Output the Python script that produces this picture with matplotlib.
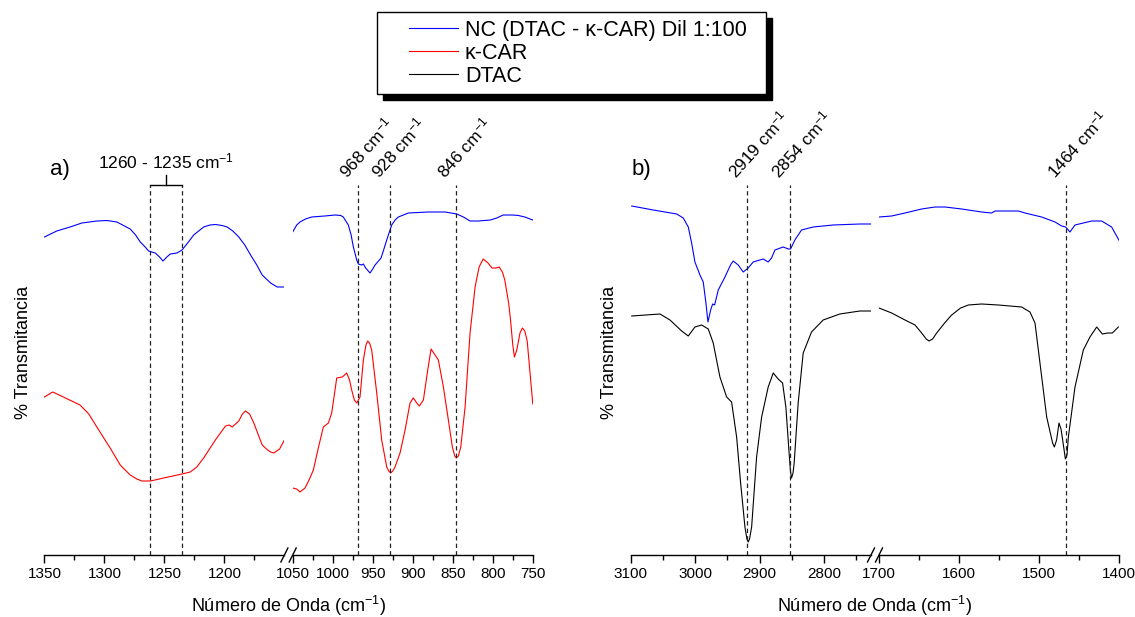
import numpy as np
import matplotlib.pyplot as plt
from matplotlib.lines import Line2D
from matplotlib.legend_handler import HandlerLine2D

plt.rcParams['font.family'] = ['Liberation Sans', 'DejaVu Sans']
plt.rcParams['mathtext.fontset'] = 'custom'
plt.rcParams['mathtext.rm'] = 'Liberation Sans'
plt.rcParams['mathtext.it'] = 'Liberation Sans:italic'

# ---- panel a) 1350-1150 segment ----
a1_nc_x = [1350, 1339.7, 1328.6, 1318.8, 1306.3, 1298, 1289.6, 1278.5, 1274, 1270.1, 1266, 1263.2,
           1257.6, 1254, 1251.2, 1248, 1245.1, 1239.5, 1235.3, 1230, 1225.6, 1217.3, 1212,
           1207.5, 1202, 1197.7, 1193, 1188, 1183, 1178.2, 1173, 1168.5, 1161.5, 1156, 1150]
a1_nc_y = [318, 324, 328, 332, 334, 334.5, 333, 326, 320, 313, 308, 304,
           302, 298, 294, 298, 301, 302, 305, 313, 320, 328, 330,
           330.5, 329.5, 328, 324, 318, 310, 300, 290, 280, 272, 268, 268]
a1_car_x = [1350, 1343, 1334.2, 1320.3, 1313, 1306.3, 1295.2, 1286.8, 1278.5, 1273, 1268.7,
            1261.8, 1256, 1250.7, 1243, 1235.3, 1228.4, 1223, 1217.3, 1207.5, 1199.1, 1196,
            1193.5, 1188, 1185, 1182.4, 1179, 1175.5, 1168.5, 1164, 1161.5, 1158.8, 1154, 1150]
a1_car_y = [158, 163, 158, 150, 141, 128, 107, 90, 80, 76, 74,
            74, 75.5, 77, 79, 81, 83, 88, 97, 115, 129, 130,
            128, 134, 141, 144, 141, 132, 110, 105, 103, 102, 106, 115]

# ---- panel a) 1050-750 segment ----
a2_nc_x = [1050, 1045, 1040.9, 1034, 1026.3, 1010, 997.1, 990, 986.8, 980.5, 977, 974.2, 970,
           968, 964, 961.7, 958.8, 953.4, 950, 947.1, 939.6, 936, 932.5, 926.3, 922, 918, 905.5,
           880.5, 859.6, 845, 836.7, 828.4, 818, 803, 795, 787, 775, 768, 760, 750]
a2_nc_y = [323, 330, 333, 336, 338, 339, 340, 339.5, 338, 330, 320, 308, 295,
           291, 290, 291, 287, 282, 286, 290, 297, 306, 315, 330, 335, 338, 342,
           343, 343, 341, 338, 334, 334, 335, 337, 340, 340, 339.5, 338, 335]
a2_car_x = [1050, 1045, 1040.9, 1034.6, 1029, 1024.2, 1018, 1011.7, 1005.4, 1001.3, 998, 995,
            988, 982.5, 979, 976.3, 973, 970, 965.9, 961.7, 958.5, 956.3, 954, 951.3, 945, 938.8,
            932.5, 930, 927.5, 925, 922.1, 915.9, 909.6, 903.4, 899.3, 895, 891.7, 886.7, 881.3,
            877.1, 872.1, 868, 861.7, 855.5, 850.5, 847.5, 845.5, 843, 840, 834.6, 828.4, 822.1,
            817.1, 812, 806, 801, 796, 792, 788, 785, 780, 777.7, 775, 773, 770, 766, 763, 760,
            757, 750]
a2_car_y = [67, 66, 63, 67, 76, 85, 107, 128, 132, 142, 160, 177,
            178, 182, 175, 165, 155, 152, 158, 195, 210, 214, 212, 205, 162, 115,
            88, 84, 82, 84, 88, 102, 125, 152, 157, 152, 149, 155, 185,
            206, 200, 195, 168, 135, 108, 99, 97, 99, 108, 148, 222, 268,
            288, 296, 292, 287, 287, 288, 283, 275, 251, 234, 210, 198, 205, 222, 227, 224,
            214, 151]

# ---- panel b) 3100-2727 segment ----
b1_nc_x = [3098.3, 3064.8, 3028.5, 3018.3, 3010.5, 3005.3, 3000.2, 2992.4, 2987.3, 2983.1, 2980,
           2975.8, 2972.7, 2969.6, 2964, 2953.6, 2945, 2940.8, 2933, 2925.3, 2917.5, 2909.8,
           2894.3, 2886.5, 2881.3, 2876.1, 2863.3, 2855, 2851.8, 2845.1, 2834.8, 2816.7, 2785.7,
           2744.3, 2727.8]
b1_nc_y = [349, 345, 341, 337, 328, 312, 293, 280, 273, 252, 233,
           245, 251, 250, 265, 278, 290, 294, 290, 283, 287, 293,
           296, 293, 297, 305, 308, 306, 306, 315, 325, 328, 330,
           331, 331]
b1_dtac_x = [3098.3, 3054.4, 3038.9, 3020.8, 3010.5, 3000.2, 2989.8, 2979.5, 2971.8, 2961.4, 2951,
             2943.3, 2935.5, 2929.3, 2922.6, 2919.5, 2917.5, 2915.5, 2912.2, 2904.5, 2896.7,
             2886.5, 2878.7, 2871, 2864.2, 2859.1, 2854.4, 2852, 2850.3, 2848, 2846.2, 2840,
             2832.2, 2819.3, 2801.2, 2775.4, 2744.3, 2727.8]
b1_dtac_y = [239, 241, 235, 224, 219, 228, 230, 226, 212, 178, 158,
             153, 118, 72, 28, 16, 13, 16, 28, 98, 138,
             168, 182, 176, 172, 148, 105, 84, 77, 82, 92, 152,
             202, 223, 235, 241, 244, 244]

# ---- panel b) 1700-1400 segment ----
b2_nc_x = [1700, 1684.2, 1667.5, 1646.7, 1630, 1617.5, 1596.7, 1571.7, 1559.2, 1555, 1542.5,
           1525.8, 1517.5, 1496.7, 1480, 1471.7, 1466.7, 1461.3, 1455, 1434.2, 1421.7, 1409.2,
           1398.8]
b2_nc_y = [338, 339, 342, 346, 348, 348, 346, 343, 342, 344, 344,
           344, 342, 338, 333, 329, 328, 323, 330, 334, 334, 328,
           313]
b2_dtac_x = [1700, 1684.2, 1667.5, 1655, 1646.7, 1641, 1637.5, 1633, 1627.9, 1618, 1609.2, 1598,
             1588.3, 1571.7, 1550.8, 1521.7, 1511.3, 1505, 1498.8, 1490.4, 1483, 1480.8, 1478,
             1475, 1472.5, 1470.8, 1467, 1465, 1463.3, 1455, 1444.6, 1436.3, 1427.9, 1420.8,
             1414.2, 1408.3, 1400.8]
b2_dtac_y = [247, 242, 235, 230, 222, 216, 214, 216, 222, 232, 240, 247,
             250, 251, 250, 248, 243, 232, 192, 138, 112, 108, 115,
             132, 126, 117, 96, 100, 118, 168, 205, 218, 228, 221,
             222, 222, 228]

labels = ['NC (DTAC - κ-CAR) Dil 1:100', 'κ-CAR', 'DTAC']
a_peaks = [968, 928, 846]
a_band = [1262, 1235]
b_peaks = [2919, 2853, 1466]
b_peak_text = ['2919', '2854', '1464']

W, H = 1135, 617
fig = plt.figure(figsize=(W / 100, H / 100), dpi=100)
bot, hgt = 62 / H, 405 / H

ax_a1 = fig.add_axes([44.4 / W, bot, 240 / W, hgt])
ax_a2 = fig.add_axes([292.7 / W, bot, 240.1 / W, hgt])
ax_b1 = fig.add_axes([630.6 / W, bot, 240.4 / W, hgt])
ax_b2 = fig.add_axes([879 / W, bot, 240 / W, hgt])

lw = 0.8
ln_nc, = ax_a1.plot(a1_nc_x, a1_nc_y, color='#0000ff', lw=lw)
ln_car, = ax_a1.plot(a1_car_x, a1_car_y, color='#ff0000', lw=lw)
ax_a2.plot(a2_nc_x, a2_nc_y, color='#0000ff', lw=lw)
ax_a2.plot(a2_car_x, a2_car_y, color='#ff0000', lw=lw)
ax_b1.plot(b1_nc_x, b1_nc_y, color='#0000ff', lw=lw)
ln_dtac, = ax_b1.plot(b1_dtac_x, b1_dtac_y, color='black', lw=lw)
ax_b2.plot(b2_nc_x, b2_nc_y, color='#0000ff', lw=lw)
ax_b2.plot(b2_dtac_x, b2_dtac_y, color='black', lw=lw)

setup = [
    (ax_a1, (1350, 1150), [1350, 1300, 1250, 1200], [1325, 1275, 1225, 1175]),
    (ax_a2, (1050, 750), [1050, 1000, 950, 900, 850, 800, 750], [1025, 975, 925, 875, 825, 775]),
    (ax_b1, (3100, 2727), [3100, 3000, 2900, 2800], [3050, 2950, 2850, 2750]),
    (ax_b2, (1700, 1400), [1700, 1600, 1500, 1400], [1650, 1550, 1450]),
]
for ax, lim, major, minor in setup:
    ax.set_xlim(*lim)
    ax.set_ylim(0, 405)
    ax.set_xticks(major)
    ax.set_xticks(minor, minor=True)
    ax.set_yticks([])
    ax.patch.set_alpha(0)
    for s in ['left', 'right', 'top']:
        ax.spines[s].set_visible(False)
    ax.spines['bottom'].set_linewidth(1.0)
    ax.tick_params(axis='x', which='major', direction='out', length=6, width=1.0,
                   labelsize=11, pad=3)
    ax.tick_params(axis='x', which='minor', direction='out', length=3.5, width=1.0)

# axis break marks
for ax, side in [(ax_a1, 1), (ax_a2, 0), (ax_b1, 1), (ax_b2, 0)]:
    d, h = 3.5 / 240, 7 / 405
    ax.plot([side - d, side + d], [-h, h], color='black', lw=1.0,
            transform=ax.transAxes, clip_on=False)

# dashed marker lines
top = 370
dash = dict(color='#222222', lw=0.9, ls=(0, (3.5, 2.5)))
for x in a_band:
    ax_a1.plot([x, x], [0, top], **dash)
for x in a_peaks:
    ax_a2.plot([x, x], [0, top], **dash)
for x in b_peaks[:2]:
    ax_b1.plot([x, x], [0, top], **dash)
ax_b2.plot([b_peaks[2], b_peaks[2]], [0, top], **dash)

# bracket for the 1260-1235 band
mid = sum(a_band) / 2
ax_a1.plot(a_band, [top, top], color='black', lw=1.0)
ax_a1.plot([mid, mid], [top, top + 10], color='black', lw=1.0)
ax_a1.text(mid, top + 14, '1260 - 1235 cm$^{\\mathregular{-1}}$', ha='center', va='bottom',
           fontsize=12.5)

def peak_label(ax, x, txt):
    ax.annotate(txt + ' cm$^{\\mathregular{-1}}$', xy=(x, top), xytext=(-8, 4),
                textcoords='offset points', rotation=48, rotation_mode='anchor',
                ha='left', va='baseline', fontsize=12.5, annotation_clip=False)

for x in a_peaks:
    peak_label(ax_a2, x, str(x))
peak_label(ax_b1, b_peaks[0], b_peak_text[0])
peak_label(ax_b1, b_peaks[1], b_peak_text[1])
peak_label(ax_b2, b_peaks[2], b_peak_text[2])

ax_a1.text(1345, 385, 'a)', fontsize=16, va='center', ha='left')
ax_b1.text(3099, 385, 'b)', fontsize=16, va='center', ha='left')

for ax in [ax_a1, ax_b1]:
    ax.set_ylabel('% Transmitancia', fontsize=13, labelpad=9)

fig.text((44.4 + 532.8) / 2 / W, 1 - 606 / H, 'Número de Onda (cm$^{\\mathregular{-1}}$)',
         ha='center', va='center', fontsize=13)
fig.text((630.6 + 1119) / 2 / W, 1 - 606 / H, 'Número de Onda (cm$^{\\mathregular{-1}}$)',
         ha='center', va='center', fontsize=13)

leg = fig.legend(handles=[ln_nc, ln_car, ln_dtac], labels=labels,
                 loc='upper left', bbox_to_anchor=(377 / W, 1 - 95 / H, 389 / W, 83 / H),
                 bbox_transform=fig.transFigure, mode='expand', borderaxespad=0,
                 fontsize=15.5, handlelength=3.4, handletextpad=0.33, borderpad=0.35,
                 labelspacing=0.1, fancybox=False, framealpha=1, edgecolor='black',
                 shadow={'ox': 4, 'oy': -4, 'color': 'black', 'alpha': 1},
                 handler_map={Line2D: HandlerLine2D(xpad=1.15)})
leg.get_frame().set_linewidth(1.0)

fig.savefig('out.png', dpi=100)
